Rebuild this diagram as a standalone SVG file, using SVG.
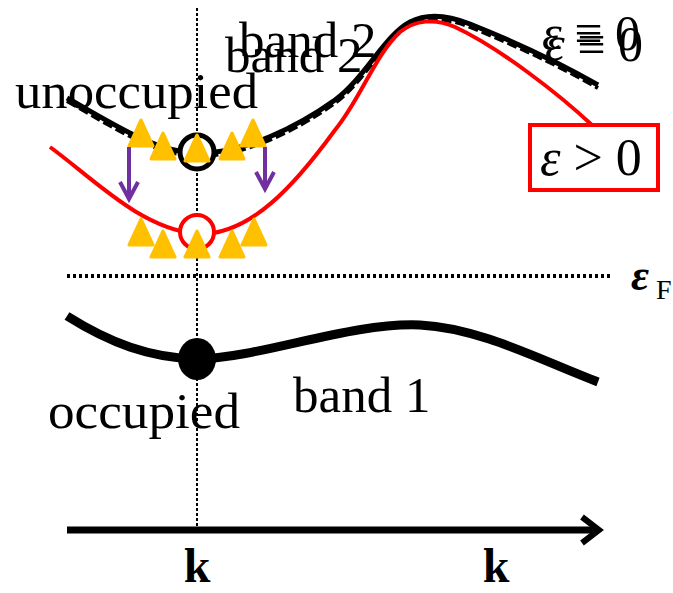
<svg xmlns="http://www.w3.org/2000/svg" width="673" height="593" viewBox="0 0 673 593">
<defs>
<style>
.t{font-family:"Liberation Serif","Times New Roman",serif;fill:#000}
.tri{fill:#FFC000;stroke:#FFC000;stroke-width:3;stroke-linejoin:round}
.pur{fill:none;stroke:#7030A0;stroke-width:4}
</style>
<polygon id="tr" class="tri" points="0,-13 -12,13 12,13"/>
</defs>
<rect width="673" height="593" fill="#fff"/>
<g id="connectors">
<line x1="197" y1="8" x2="197" y2="528" stroke="#000" stroke-width="2" stroke-dasharray="3 2"/>
<line x1="67" y1="276" x2="610" y2="276" stroke="#000" stroke-width="4" stroke-dasharray="3 3"/>
<line x1="67" y1="530" x2="596" y2="530" stroke="#000" stroke-width="7"/>
<polyline points="582,517 599,530 582,543" fill="none" stroke="#000" stroke-width="6"/>
</g>
<g id="band1">
<path d="M67,316 C110,343 150,358 197,359 C260,358 350,322 420,325 C480,328 540,360 598,382" fill="none" stroke="#000" stroke-width="9"/>
<ellipse cx="197" cy="359" rx="19" ry="21" fill="#000"/>
</g>
<g id="band2-black">
<path d="M67,98 C115,125 155,152 197,153 C245,154 300,125 335,100 C365,78 385,35 410,22 C425,14 445,14 470,24 C515,42 560,63 598,85" fill="none" stroke="#000" stroke-width="5"/>
<path d="M67,101 C115,128 155,155 197,156 C245,157 300,128 335,103 C365,81 385,38 410,25 C425,17 445,17 470,27 C515,45 560,66 598,88" fill="none" stroke="#000" stroke-width="4" stroke-dasharray="10 4"/>
<circle cx="197" cy="152" r="17" fill="#fff" stroke="#000" stroke-width="5"/>
</g>
<g id="band2-red">
<path d="M50,147 C95,180 140,228 197,234 C250,236 295,185 335,130 C360,100 375,55 400,32 C415,20 435,18 455,27 C500,48 560,95 593,126" fill="none" stroke="#FF0000" stroke-width="4"/>
<circle cx="197" cy="232" r="17" fill="#fff" stroke="#FF0000" stroke-width="4"/>
</g>
<g id="electrons-top">
<use href="#tr" x="141" y="133"/>
<use href="#tr" x="163" y="146"/>
<use href="#tr" x="197" y="148"/>
<use href="#tr" x="232" y="146"/>
<use href="#tr" x="253" y="133"/>
</g>
<g id="electrons-bottom">
<use href="#tr" x="141" y="232"/>
<use href="#tr" x="163" y="244"/>
<use href="#tr" x="197" y="244"/>
<use href="#tr" x="232" y="244"/>
<use href="#tr" x="254" y="232"/>
</g>
<g id="arrows">
<line class="pur" x1="129" y1="147" x2="129" y2="199"/>
<polyline class="pur" points="120,182 129,199 138,182"/>
<line class="pur" x1="265" y1="147" x2="265" y2="189"/>
<polyline class="pur" points="256,172 265,189 274,172"/>
</g>
<g id="box">
<rect x="530" y="125" width="128" height="65" fill="#fff" stroke="#FF0000" stroke-width="4"/>
<text class="t" x="540" y="175" font-size="52"><tspan font-style="italic">ε</tspan> &gt; 0</text>
</g>
<g id="labels">
<text class="t" x="239" y="57" font-size="51">band 2</text>
<text class="t" x="225" y="72" font-size="51">band 2</text>
<text class="t" x="542" y="50" font-size="50"><tspan font-style="italic">ε</tspan> ≡ 0</text>
<text class="t" x="545" y="61" font-size="50"><tspan font-style="italic">ε</tspan> ≡ 0</text>
<text class="t" x="15" y="108" font-size="51" textLength="243" lengthAdjust="spacingAndGlyphs">unoccupied</text>
<text class="t" x="48" y="428" font-size="51" textLength="192" lengthAdjust="spacingAndGlyphs">occupied</text>
<text class="t" x="293" y="412" font-size="51">band 1</text>
<text class="t" x="631" y="290" font-size="44" font-weight="bold" font-style="italic">ε</text>
<text class="t" x="656" y="299" font-size="28">F</text>
<text class="t" x="197" y="582" font-size="48" font-weight="bold" text-anchor="middle">k</text>
<text class="t" x="496" y="582" font-size="48" font-weight="bold" text-anchor="middle">k</text>
</g>
</svg>
